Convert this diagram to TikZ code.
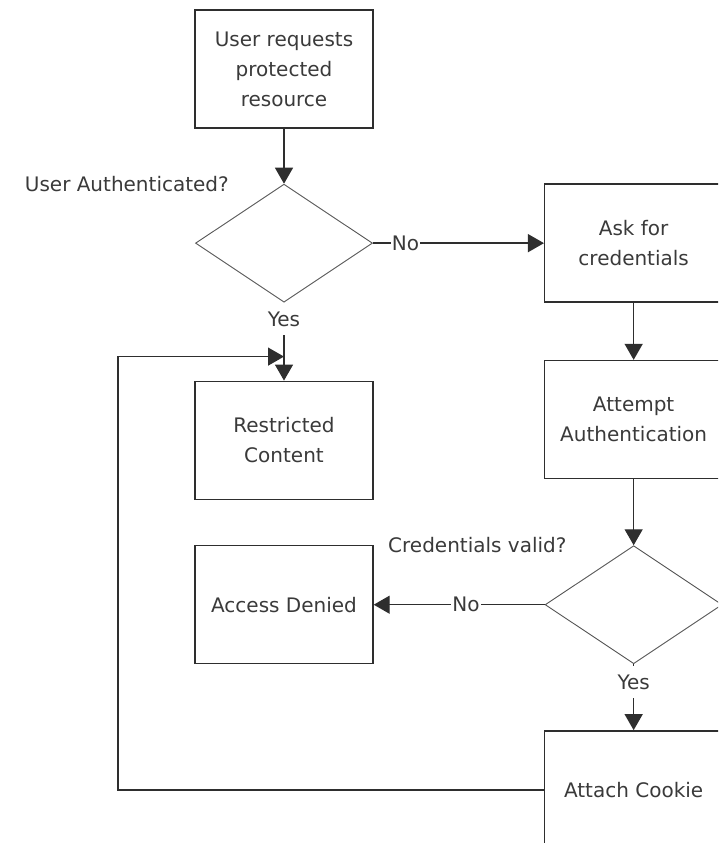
\documentclass[tikz,border=0pt]{standalone}
\usepackage{fontspec}
\setmainfont{DejaVu Sans}
\usetikzlibrary{shapes.geometric,arrows.meta,positioning,calc}
\definecolor{flowLine}{HTML}{2E2E2E}
\definecolor{flowText}{HTML}{3A3A3A}
\definecolor{flowEdge}{HTML}{555555}
\tikzset{
    flowFont/.style={font=\fontsize{20}{30}\selectfont, text=flowText},
    % Shapes
    flowBox/.style={
        rectangle,
        draw=flowLine,
        line width=1.4pt,
        minimum width=178pt,
        minimum height=118pt,
        inner sep=0pt,
        align=center,
        flowFont
    },
    flowTest/.style={
        diamond,
        draw=flowEdge,
        line width=0.9pt,
        minimum width=177pt,
        minimum height=118pt,
        inner sep=0pt
    },
    % Labels
    flowQuestion/.style={flowFont, inner sep=0pt},
    flowNo/.style={flowFont, fill=white, inner xsep=1pt, inner ysep=2pt},
    flowYes/.style={flowFont, fill=white, inner sep=1pt, minimum height=32pt},
    % Arrows
    flowArrow/.style={-{Triangle[length=16pt,width=18pt]}, line width=1.4pt, draw=flowLine}
}
\begin{document}
\begin{tikzpicture}[x=1pt, y=-1pt]
\clip (0,0) rectangle (718,843);
\node[flowBox] (req) at (284,69) {User requests\\protected\\resource};
\node[flowTest, below=55pt of req] (auth) {};
\node[flowQuestion, anchor=east, left=55pt of auth.north] (authq) {User Authenticated?};
\node[flowBox, right=171pt of auth] (ask) {Ask for\\credentials};
\node[flowBox, below=78pt of auth] (restricted) {Restricted\\Content};
\node[flowBox, below=57pt of ask] (attempt) {Attempt\\Authentication};
\node[flowTest, below=66pt of attempt] (valid) {};
\node[flowQuestion, anchor=east, left=67pt of valid.north] (validq) {Credentials valid?};
\node[flowBox, left=171pt of valid] (denied) {Access Denied};
\node[flowBox, below=66pt of valid] (cookie) {Attach Cookie};
\coordinate (merge) at ([yshift=24pt]restricted.north);

\draw[flowArrow] (req) -- (auth);
\draw[flowArrow] (auth) -- (ask) node[flowNo, pos=0.19] {No};
\draw[flowArrow] (auth) -- (restricted) node[flowYes, pos=0.21] {Yes};
\draw[flowArrow] (ask) -- (attempt);
\draw[flowArrow] (attempt) -- (valid);
\draw[flowArrow] (valid) -- (denied) node[flowNo, pos=0.46] {No};
\draw[flowArrow] (valid) -- (cookie) node[flowYes, pos=0.27] {Yes};
\draw[flowArrow] (cookie.west) -- ++(-426,0) |- (merge);
\end{tikzpicture}
\end{document}
